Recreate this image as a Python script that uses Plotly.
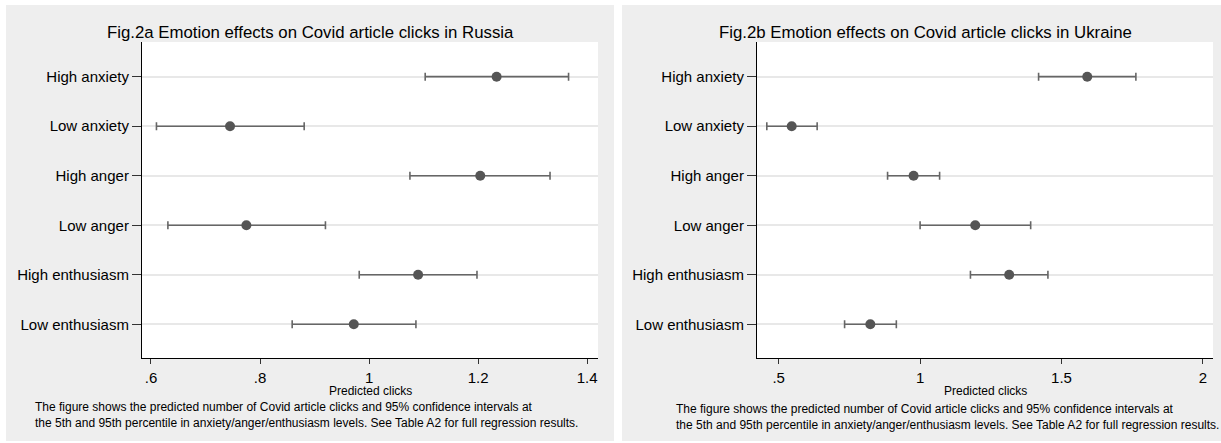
import plotly.graph_objects as go

categories = ["High anxiety", "Low anxiety", "High anger", "Low anger",
              "High enthusiasm", "Low enthusiasm"]

# Russia (Fig.2a)
ru_est = [1.234, 0.745, 1.204, 0.775, 1.090, 0.972]
ru_lo = [1.103, 0.610, 1.075, 0.631, 0.982, 0.859]
ru_hi = [1.366, 0.881, 1.332, 0.920, 1.198, 1.086]

# Ukraine (Fig.2b)
ua_est = [1.591, 0.546, 0.977, 1.195, 1.315, 0.824]
ua_lo = [1.419, 0.458, 0.885, 1.000, 1.178, 0.733]
ua_hi = [1.763, 0.636, 1.069, 1.391, 1.452, 0.916]

ru_tickvals = [0.6, 0.8, 1.0, 1.2, 1.4]
ru_ticktext = [".6", ".8", "1", "1.2", "1.4"]
ua_tickvals = [0.5, 1.0, 1.5, 2.0]
ua_ticktext = [".5", "1", "1.5", "2"]

titles = ["Fig.2a Emotion effects on Covid article clicks in Russia",
          "Fig.2b Emotion effects on Covid article clicks in Ukraine"]
xtitle = "Predicted clicks"
note1 = "The figure shows the predicted number of Covid article clicks and 95% confidence intervals at"
note2 = "the 5th and 95th percentile in anxiety/anger/enthusiasm levels. See Table A2 for full regression results."

W, H = 1221, 443
FONT = "Liberation Sans, Arial, Helvetica, sans-serif"
PANEL = "#EEEEEE"
MARK = "#555555"
CI = "#666666"

def px(x):
    return x / W

def py(y):
    return 1 - y / H

fig = go.Figure()

panels = [
    dict(est=ru_est, lo=ru_lo, hi=ru_hi, xa="x", ya="y",
         plot=(142, 598), panel=(6, 614), rng=[0.5835, 1.420],
         tv=ru_tickvals, tt=ru_ticktext, title=titles[0], note_x=34),
    dict(est=ua_est, lo=ua_lo, hi=ua_hi, xa="x2", ya="y2",
         plot=(757, 1213), panel=(622, 1228), rng=[0.4233, 2.0357],
         tv=ua_tickvals, tt=ua_ticktext, title=titles[1], note_x=675),
]

top, bottom = 42, 358
shapes = []
annotations = []
for i, p in enumerate(panels):
    plus = [h - e for h, e in zip(p["hi"], p["est"])]
    minus = [e - l for e, l in zip(p["est"], p["lo"])]
    fig.add_trace(go.Scatter(
        x=p["est"], y=categories, mode="markers",
        xaxis=p["xa"], yaxis=p["ya"],
        marker=dict(color=MARK, size=10),
        error_x=dict(type="data", array=plus, arrayminus=minus,
                     color=CI, thickness=1.6, width=4),
        showlegend=False, hoverinfo="x+y",
    ))
    # gray panel background
    shapes.append(dict(type="rect", xref="paper", yref="paper",
                       x0=px(p["panel"][0]), x1=px(p["panel"][1]),
                       y0=py(441), y1=py(5), fillcolor=PANEL,
                       line=dict(width=0), layer="below"))
    # white plot area
    shapes.append(dict(type="rect", xref="paper", yref="paper",
                       x0=px(p["plot"][0]), x1=px(p["plot"][1]),
                       y0=py(bottom), y1=py(top), fillcolor="white",
                       line=dict(width=0), layer="below"))
    cx_panel = (p["panel"][0] + p["panel"][1]) / 2
    cx_plot = (p["plot"][0] + p["plot"][1]) / 2
    annotations.append(dict(text=p["title"], x=px(cx_panel), y=py(32),
                            xref="paper", yref="paper", xanchor="center",
                            yanchor="middle", showarrow=False,
                            font=dict(family=FONT, size=16.8, color="black")))
    annotations.append(dict(text=xtitle, x=px(cx_plot), y=py(391),
                            xref="paper", yref="paper", xanchor="center",
                            yanchor="middle", showarrow=False,
                            font=dict(family=FONT, size=12, color="black")))
    dy = 0 if i == 0 else 2
    annotations.append(dict(text=note1 + "<br>" + note2,
                            x=px(p["note_x"]), y=py(415 + dy),
                            xref="paper", yref="paper", xanchor="left",
                            yanchor="middle", align="left", showarrow=False,
                            borderpad=0,
                            font=dict(family=FONT, size=12, color="black")))

def xaxis_cfg(p, anchor):
    return dict(domain=[px(p["plot"][0]), px(p["plot"][1])], range=p["rng"],
                anchor=anchor, tickvals=p["tv"], ticktext=p["tt"],
                showgrid=False, zeroline=False, showline=True,
                linecolor="black", linewidth=1.2, ticks="outside",
                ticklen=5, tickcolor="#333333", tickwidth=1.2,
                tickfont=dict(family=FONT, size=15, color="black"),
                ticklabelstandoff=1)

def yaxis_cfg(p, anchor):
    return dict(domain=[py(bottom), py(top)], anchor=anchor,
                type="category", categoryorder="array",
                categoryarray=categories, range=[5.68, -0.70],
                showgrid=True, gridcolor="#E8E8E8", gridwidth=1.5,
                zeroline=False, showline=True, linecolor="black",
                linewidth=1.2, ticks="outside", ticklen=9,
                tickcolor="#333333", tickwidth=1.2,
                tickfont=dict(family=FONT, size=15, color="black"),
                ticklabelstandoff=0)

fig.update_layout(
    width=W, height=H,
    margin=dict(l=0, r=0, t=0, b=0),
    paper_bgcolor="white",
    plot_bgcolor="rgba(0,0,0,0)",
    xaxis=xaxis_cfg(panels[0], "y"),
    yaxis=yaxis_cfg(panels[0], "x"),
    xaxis2=xaxis_cfg(panels[1], "y2"),
    yaxis2=yaxis_cfg(panels[1], "x2"),
    shapes=shapes,
    annotations=annotations,
    font=dict(family=FONT, color="black"),
)

fig.write_html("out.html",
               config={"displayModeBar": False},
               post_script="document.body.style.margin='0';"
                           "document.body.style.overflow='hidden';")
